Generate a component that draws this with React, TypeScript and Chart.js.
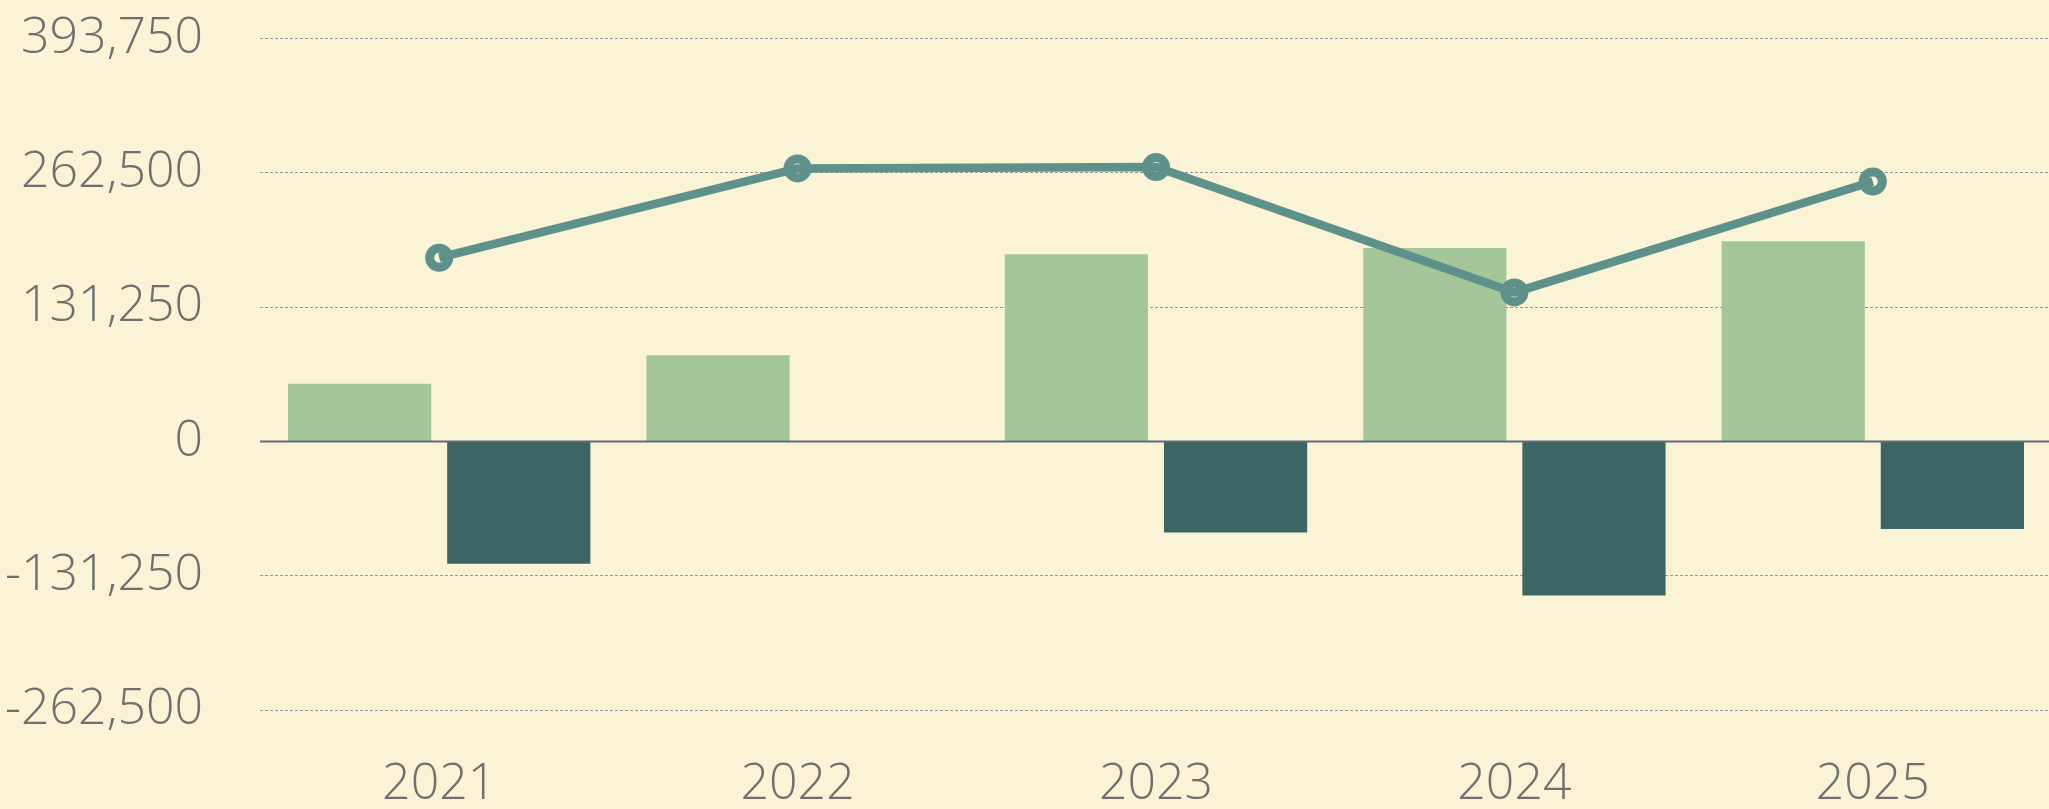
import React, { useEffect, useRef } from "react";
import { Chart, registerables } from "chart.js";

Chart.register(...registerables);

const categories = ["2021", "2022", "2023", "2024", "2025"];
const lightBars = [56400, 84100, 183000, 188900, 195500];
const darkBars = [-119500, null, -89100, -150500, -85700];
const lineValues = [179500, 266800, 268100, 145600, 254000];
const yTicks = [-262500, -131250, 0, 131250, 262500, 393750];

const BG = "#FBF3D6";
const LIGHT = "#A5C69B";
const DARK = "#3D6563";
const LINE = "#5E9189";
const TEXT = "#6F6F6F";
const FONT = "'Open Sans', sans-serif";

const backgroundPlugin = {
  id: "bgFill",
  beforeDraw(chart: any) {
    const { ctx, width, height } = chart;
    ctx.save();
    ctx.fillStyle = BG;
    ctx.fillRect(0, 0, width, height);
    ctx.restore();
  },
};

const zeroLinePlugin = {
  id: "zeroLine",
  afterDatasetsDraw(chart: any) {
    const { ctx, chartArea, scales } = chart;
    const y = scales.y.getPixelForValue(0);
    ctx.save();
    ctx.strokeStyle = "#5F6B78";
    ctx.lineWidth = 2;
    ctx.beginPath();
    ctx.moveTo(chartArea.left, y);
    ctx.lineTo(chartArea.right, y);
    ctx.stroke();
    ctx.restore();
  },
};

export default function App() {
  const ref = useRef<HTMLCanvasElement>(null);

  useEffect(() => {
    if (!ref.current) return;
    const chart = new Chart(ref.current, {
      data: {
        labels: categories,
        datasets: [
          {
            type: "line" as const,
            data: lineValues,
            borderColor: LINE,
            borderWidth: 8.5,
            pointRadius: 9.5,
            pointBorderWidth: 9,
            pointBorderColor: LINE,
            pointBackgroundColor: "rgba(0,0,0,0)",
            tension: 0,
            order: 0,
          },
          {
            type: "bar" as const,
            data: lightBars,
            backgroundColor: LIGHT,
            borderWidth: 0,
            categoryPercentage: 0.888,
            barPercentage: 0.9,
            order: 1,
          },
          {
            type: "bar" as const,
            data: darkBars,
            backgroundColor: DARK,
            borderWidth: 0,
            categoryPercentage: 0.888,
            barPercentage: 0.9,
            order: 1,
          },
        ],
      },
      options: {
        animation: false,
        responsive: true,
        maintainAspectRatio: false,
        layout: {
          autoPadding: false,
          padding: { top: 38.5, left: 0, right: 0, bottom: 0 },
        },
        plugins: {
          legend: { display: false },
          tooltip: { enabled: false },
        },
        scales: {
          x: {
            offset: true,
            grid: { display: false, drawTicks: false },
            border: { display: false },
            ticks: {
              color: TEXT,
              padding: 45,
              font: { family: FONT, size: 50, weight: 300 },
              maxRotation: 0,
            },
            afterFit(scale: any) {
              scale.height = 99;
              scale.paddingLeft = 0;
              scale.paddingRight = 0;
            },
          },
          y: {
            min: -262500,
            max: 393750,
            grid: {
              color: "#959595",
              lineWidth: 1,
              drawTicks: false,
            },
            border: { display: false, dash: [3, 2] },
            ticks: {
              color: TEXT,
              padding: 57,
              font: { family: FONT, size: 50, weight: 300 },
              callback: (v: any) => Number(v).toLocaleString("en-US"),
            },
            afterBuildTicks(scale: any) {
              scale.ticks = yTicks.map((v) => ({ value: v }));
            },
            afterFit(scale: any) {
              scale.width = 260;
              scale.paddingTop = 0;
              scale.paddingBottom = 0;
            },
          },
        },
      },
      plugins: [backgroundPlugin, zeroLinePlugin],
    });
    return () => chart.destroy();
  }, []);

  return (
    <div
      style={{
        position: "fixed",
        left: 0,
        top: 0,
        width: 2049,
        height: 809,
        overflow: "hidden",
        background: BG,
      }}
    >
      <div style={{ position: "relative", width: 2052, height: 809 }}>
        <canvas ref={ref} />
      </div>
    </div>
  );
}
